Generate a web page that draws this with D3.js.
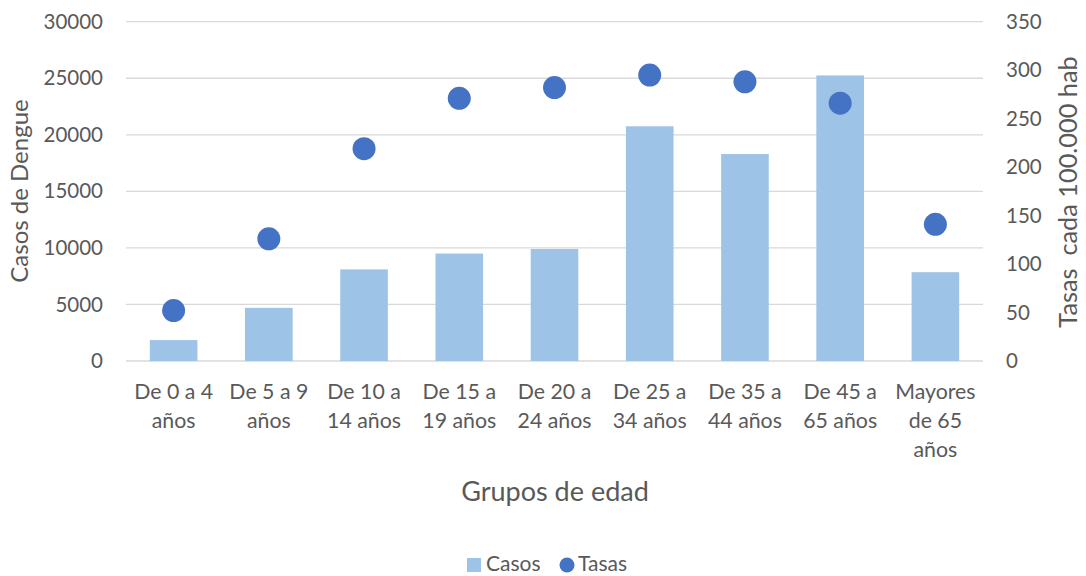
<!DOCTYPE html>
<html>
<head>
<meta charset="utf-8">
<script src="https://cdn.jsdelivr.net/npm/d3@7"></script>
<style>
  html, body { margin: 0; padding: 0; background: #fff; }
  svg text { font-family: Lato, "Open Sans", sans-serif; fill: #595959; }
</style>
</head>
<body>
<svg id="chart" width="1086" height="576"></svg>
<script>
// Age groups (each label split into display lines)
const categories = [
  ["De 0 a 4", "años"],
  ["De 5 a 9", "años"],
  ["De 10 a", "14 años"],
  ["De 15 a", "19 años"],
  ["De 20 a", "24 años"],
  ["De 25 a", "34 años"],
  ["De 35 a", "44 años"],
  ["De 45 a", "65 años"],
  ["Mayores", "de 65", "años"]
];
// Dengue cases per age group
const casos = [1850, 4700, 8100, 9500, 9900, 20750, 18300, 25250, 7850];
// Rate per 100.000 inhabitants
const tasas = [52, 126, 219, 271, 282, 295, 288, 266, 141];
const leftTicks = [0, 5000, 10000, 15000, 20000, 25000, 30000];
const rightTicks = [0, 50, 100, 150, 200, 250, 300, 350];

const svg = d3.select("#chart");
const m = { left: 126, right: 983, top: 21.7, bottom: 361 };

const x = d3.scaleBand()
  .domain(d3.range(categories.length))
  .range([m.left, m.right])
  .paddingInner(0.5)
  .paddingOuter(0.25);
const yL = d3.scaleLinear().domain([0, 30000]).range([m.bottom, m.top]);
const yR = d3.scaleLinear().domain([0, 350]).range([m.bottom, m.top]);

// Gridlines
svg.append("g").selectAll("line")
  .data(leftTicks)
  .join("line")
  .attr("x1", m.left).attr("x2", m.right)
  .attr("y1", d => yL(d)).attr("y2", d => yL(d))
  .attr("stroke", "#d9d9d9").attr("stroke-width", 1.3);

// Left axis
const leftAxis = svg.append("g")
  .attr("transform", `translate(${m.left},0)`)
  .call(d3.axisLeft(yL).tickValues(leftTicks).tickSize(0).tickPadding(23).tickFormat(d3.format("d")));
leftAxis.select(".domain").remove();
leftAxis.selectAll("text").attr("font-size", 20.5).style("font-family", "Lato, sans-serif").attr("fill", "#595959");

// Right axis
const rightAxis = svg.append("g")
  .attr("transform", `translate(${m.right},0)`)
  .call(d3.axisRight(yR).tickValues(rightTicks).tickSize(0).tickPadding(23));
rightAxis.select(".domain").remove();
rightAxis.selectAll("text").attr("font-size", 20.5).style("font-family", "Lato, sans-serif").attr("fill", "#595959");

// Bars: cases
svg.append("g").selectAll("rect")
  .data(casos)
  .join("rect")
  .attr("x", (d, i) => x(i))
  .attr("width", x.bandwidth())
  .attr("y", d => yL(d))
  .attr("height", d => yL(0) - yL(d))
  .attr("fill", "#9dc3e6");

// Dots: rates
svg.append("g").selectAll("circle")
  .data(tasas)
  .join("circle")
  .attr("cx", (d, i) => x(i) + x.bandwidth() / 2)
  .attr("cy", d => yR(d))
  .attr("r", 11.5)
  .attr("fill", "#4472c4");

// Category labels
const xl = svg.append("g");
categories.forEach((lines, i) => {
  const t = xl.append("text")
    .attr("text-anchor", "middle")
    .attr("font-size", 21.3);
  lines.forEach((ln, j) => {
    t.append("tspan")
      .attr("x", x(i) + x.bandwidth() / 2)
      .attr("y", 399 + j * 29)
      .text(ln);
  });
});

// Axis titles
svg.append("text")
  .attr("transform", `translate(${555},${501})`)
  .attr("text-anchor", "middle")
  .attr("font-size", 27)
  .text("Grupos de edad");

svg.append("text")
  .attr("transform", `translate(${28},${191}) rotate(-90)`)
  .attr("text-anchor", "middle")
  .attr("font-size", 24)
  .text("Casos de Dengue");

svg.append("text")
  .attr("transform", `translate(${1077},${192}) rotate(-90)`)
  .attr("text-anchor", "middle")
  .attr("font-size", 25.3)
  .attr("xml:space", "preserve")
  .style("white-space", "pre")
  .text("Tasas  cada 100.000 hab");

// Legend
const lg = svg.append("g");
lg.append("rect").attr("x", 467).attr("y", 558).attr("width", 14).attr("height", 14).attr("fill", "#9dc3e6");
lg.append("text").attr("x", 486).attr("y", 571).attr("font-size", 21).text("Casos");
lg.append("circle").attr("cx", 567).attr("cy", 565).attr("r", 7.5).attr("fill", "#4472c4");
lg.append("text").attr("x", 578).attr("y", 571).attr("font-size", 21).text("Tasas");
</script>
</body>
</html>
